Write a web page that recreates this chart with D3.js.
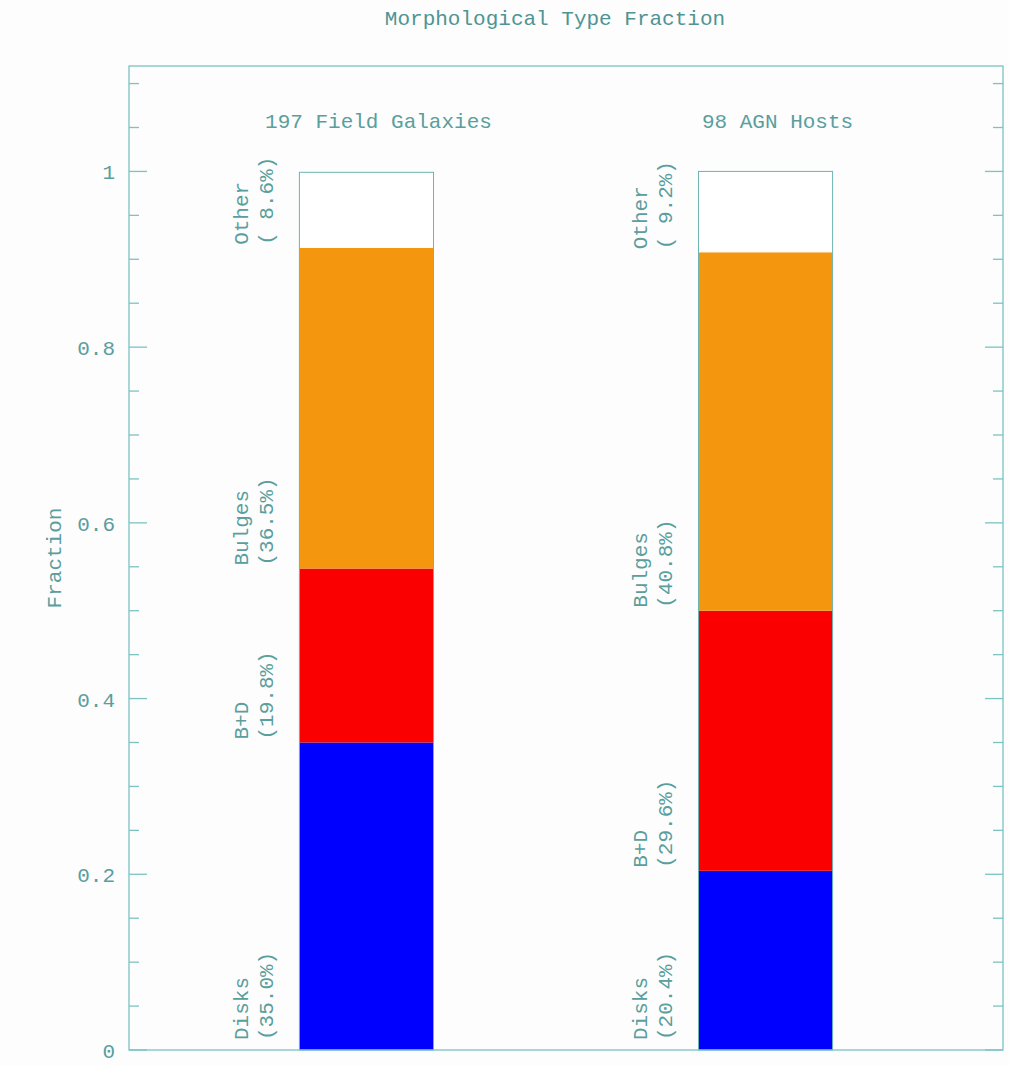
<!DOCTYPE html>
<html>
<head>
<meta charset="utf-8">
<script src="https://cdn.jsdelivr.net/npm/d3@7"></script>
<style>
  body { margin: 0; background: #fcfdfc; }
  svg text { font-family: "Liberation Mono", "DejaVu Sans Mono", monospace; fill: #5a9e9e; }
</style>
</head>
<body>
<div id="chart"></div>
<script>
// chart data
var groups = ["197 Field Galaxies", "98 AGN Hosts"];
var types = ["Disks", "B+D", "Bulges", "Other"];
var fieldPct = [35.0, 19.8, 36.5, 8.6];
var agnPct = [20.4, 29.6, 40.8, 9.2];
var typeColors = ["#0000ff", "#fa0000", "#f5960f", "#ffffff"];
var yTicks = [0, 0.2, 0.4, 0.6, 0.8, 1];
var yTickLabels = ["0", "0.2", "0.4", "0.6", "0.8", "1"];

var W = 1009, H = 1065;
// plot frame (note: "top" is reserved on window, so use plot* names)
var plotL = 129, plotR = 1003, plotT = 66, plotB = 1050;
var axisColor = "#7cc3c3";

var svg = d3.select("#chart").append("svg")
  .attr("width", W)
  .attr("height", H);

var x = d3.scaleBand()
  .domain(groups)
  .range([plotL, plotR])
  .paddingInner(0.664)
  .paddingOuter(0.427);

var y = d3.scaleLinear()
  .domain([0, 1.12])
  .range([plotB, plotT]);

// build stacked segments for each group
var series = [fieldPct, agnPct];
var segs = [];
groups.forEach(function(g, gi) {
  var acc = 0;
  series[gi].forEach(function(v, ti) {
    segs.push({ group: g, type: types[ti], pct: v, y0: acc / 100, y1: (acc + v) / 100, color: typeColors[ti], idx: ti });
    acc += v;
  });
});

svg.selectAll("rect.seg")
  .data(segs)
  .enter()
  .append("rect")
  .attr("class", "seg")
  .attr("x", function(d) { return x(d.group); })
  .attr("width", x.bandwidth())
  .attr("y", function(d) { return y(d.y1); })
  .attr("height", function(d) { return y(d.y0) - y(d.y1); })
  .style("fill", function(d) { return d.color; });

// bar outlines
svg.selectAll("rect.outline")
  .data(groups)
  .enter()
  .append("rect")
  .attr("x", function(g) { return x(g); })
  .attr("width", x.bandwidth())
  .attr("y", function(g, i) { return y(d3.sum(series[i]) / 100); })
  .attr("height", function(g, i) { return y(0) - y(d3.sum(series[i]) / 100); })
  .style("fill", "none")
  .style("stroke", "#6fb3b3")
  .style("stroke-width", 1);

// frame
svg.append("rect")
  .attr("x", plotL).attr("y", plotT)
  .attr("width", plotR - plotL).attr("height", plotB - plotT)
  .style("fill", "none")
  .style("stroke", axisColor)
  .style("stroke-width", 1.3);

// ticks on left and right, pointing inward
var minor = d3.range(0, 1.12, 0.05);
var tickG = svg.append("g").style("stroke", axisColor).style("stroke-width", 1.3);
minor.forEach(function(v) {
  var major = yTicks.some(function(t) { return Math.abs(t - v) < 1e-6; });
  var len = major ? 18 : 10;
  tickG.append("line").attr("x1", plotL).attr("x2", plotL + len).attr("y1", y(v)).attr("y2", y(v));
  tickG.append("line").attr("x1", plotR).attr("x2", plotR - len).attr("y1", y(v)).attr("y2", y(v));
});

svg.selectAll("text.ytick")
  .data(yTicks)
  .enter()
  .append("text")
  .attr("class", "ytick")
  .attr("x", 115)
  .attr("y", function(d) { return y(d) + 8; })
  .attr("text-anchor", "end")
  .style("font-size", "21px")
  .text(function(d, i) { return yTickLabels[i]; });

// axis title
svg.append("text")
  .attr("transform", "translate(61," + y(0.56) + ") rotate(-90)")
  .attr("text-anchor", "middle")
  .style("font-size", "21px")
  .text("Fraction");

// chart title
svg.append("text")
  .attr("x", 555)
  .attr("y", 25)
  .attr("text-anchor", "middle")
  .style("font-size", "21px")
  .style("fill", "#4f9494")
  .text("Morphological Type Fraction");

// group titles
svg.selectAll("text.gtitle")
  .data(groups)
  .enter()
  .append("text")
  .attr("x", function(g) { return x(g) + x.bandwidth() / 2 + 12; })
  .attr("y", 128)
  .attr("text-anchor", "middle")
  .style("font-size", "21px")
  .text(function(g) { return g; });

// rotated segment labels
segs.forEach(function(d) {
  var base = Math.min(y(d.y0) - 3, y(0) - 10);
  var bx = x(d.group);
  var pctTxt = "(" + (d.pct < 10 ? " " : "") + d.pct.toFixed(1) + "%)";
  svg.append("text")
    .attr("transform", "translate(" + (bx - 51) + "," + base + ") rotate(-90)")
    .style("font-size", "21px")
    .text(d.type);
  svg.append("text")
    .attr("transform", "translate(" + (bx - 26) + "," + base + ") rotate(-90)")
    .style("font-size", "21px")
    .text(pctTxt);
});
</script>
</body>
</html>
